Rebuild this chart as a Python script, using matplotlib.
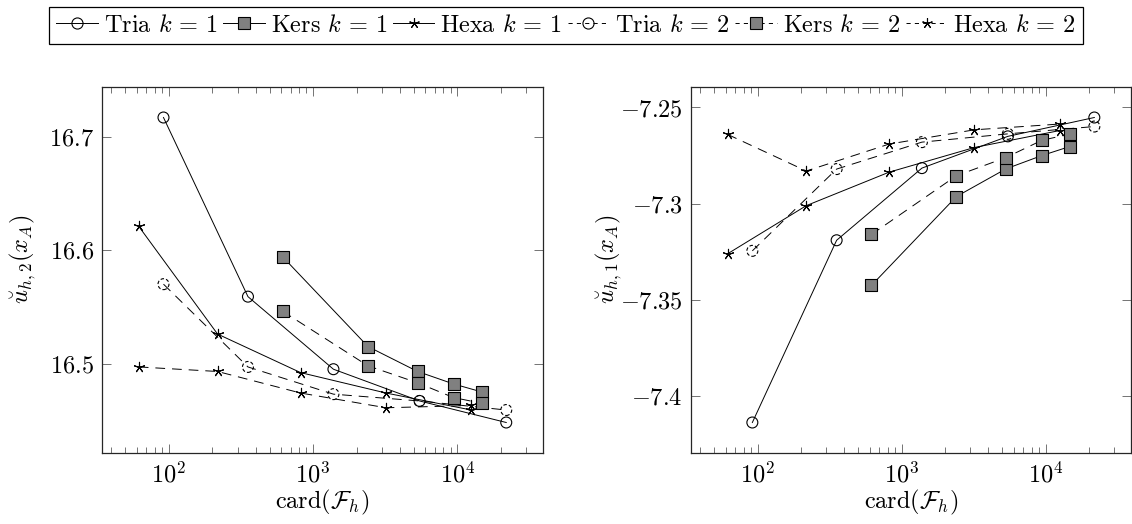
import numpy as np
import matplotlib
matplotlib.use("Agg")
import matplotlib.pyplot as plt
from matplotlib.lines import Line2D
from matplotlib.ticker import LogLocator, FixedLocator, FuncFormatter, NullFormatter
from matplotlib.mathtext import MathTextParser

plt.rcParams["font.family"] = "serif"
plt.rcParams["font.serif"] = ["cmr10"]
plt.rcParams["mathtext.fontset"] = "cm"
plt.rcParams["axes.formatter.use_mathtext"] = True
plt.rcParams["lines.scale_dashes"] = False

# ---- data ----
x_tria = [92, 354, 1384, 5470, 21800]
x_kers = [617, 2400, 5300, 9400, 14700]
x_hexa = [62, 218, 820, 3200, 12500]

# left panel: u_{h,2}(x_A)
tria1_u2 = [16.717, 16.559, 16.495, 16.467, 16.448]
kers1_u2 = [16.594, 16.515, 16.493, 16.482, 16.475]
hexa1_u2 = [16.621, 16.526, 16.492, 16.474, 16.459]
tria2_u2 = [16.570, 16.497, 16.473, 16.467, 16.459]
kers2_u2 = [16.546, 16.498, 16.483, 16.470, 16.465]
hexa2_u2 = [16.497, 16.493, 16.474, 16.461, 16.463]

# right panel: u_{h,1}(x_A)
tria1_u1 = [-7.4137, -7.319, -7.2815, -7.265, -7.2552]
kers1_u1 = [-7.3425, -7.2963, -7.2819, -7.275, -7.2703]
hexa1_u1 = [-7.326, -7.301, -7.2836, -7.2708, -7.262]
tria2_u1 = [-7.3245, -7.282, -7.268, -7.2637, -7.2599]
kers2_u1 = [-7.316, -7.2855, -7.276, -7.2671, -7.2638]
hexa2_u1 = [-7.264, -7.283, -7.269, -7.2616, -7.2586]

labels = [r"Tria $k\,=\,1$", r"Kers $k\,=\,1$", r"Hexa $k\,=\,1$",
          r"Tria $k\,=\,2$", r"Kers $k\,=\,2$", r"Hexa $k\,=\,2$"]
yticks_left = [16.5, 16.6, 16.7]
yticks_right = [-7.4, -7.35, -7.3, -7.25]

# ---- styles ----
FS = 17.5
DASH = (0, (7, 5))
LW = 0.7
star = (5, 2, 0)
mstyle = {
    "Tria": dict(marker="o", s=62, facecolors="none", edgecolors="black"),
    "Kers": dict(marker="s", s=66, facecolors="#808080", edgecolors="black"),
    "Hexa": dict(marker=star, s=55, facecolors="black", edgecolors="black"),
}

W, H = 1132, 524
fig = plt.figure(figsize=(W / 100, H / 100), dpi=100)
axL = fig.add_axes([102 / W, (H - 453) / H, 441 / W, 366 / H])
axR = fig.add_axes([691 / W, (H - 453) / H, 440 / W, 366 / H])


def mlabel(s, fallback):
    try:
        MathTextParser("path").parse(s)
        return s
    except Exception:
        return fallback


def draw(ax, series):
    for (name, xs, ys, dashed) in series:
        ls = DASH if dashed else "-"
        ax.plot(xs, ys, color="black", lw=LW, linestyle=ls, zorder=2)
        st = dict(mstyle[name])
        ax.scatter(xs, ys, linewidths=0.8,
                   linestyle=(0, (2.5, 1.5)) if (dashed and name == "Tria") else "-",
                   zorder=3, **st)


def style_axes(ax, ys_all, yticks):
    allx = np.log10(np.concatenate([x_tria, x_kers, x_hexa]))
    lo, hi = allx.min(), allx.max()
    r = hi - lo
    ax.set_xscale("log")
    ax.set_xlim(10 ** (lo - 0.1 * r), 10 ** (hi + 0.1 * r))
    ya = np.concatenate(ys_all)
    ylo, yhi = ya.min(), ya.max()
    yr = yhi - ylo
    ax.set_ylim(ylo - 0.1 * yr, yhi + 0.1 * yr)
    ax.xaxis.set_major_locator(LogLocator(base=10, numticks=10))
    ax.xaxis.set_minor_locator(LogLocator(base=10, subs=np.arange(2, 10), numticks=20))
    ax.xaxis.set_minor_formatter(NullFormatter())
    ax.yaxis.set_major_locator(FixedLocator(yticks))
    ax.yaxis.set_major_formatter(FuncFormatter(lambda v, p: r"$%g$" % v))
    ax.tick_params(which="both", direction="in", top=True, right=True,
                   color="0.45", width=0.7, labelsize=FS)
    ax.tick_params(which="major", length=6.5, pad=6)
    ax.tick_params(which="minor", length=4)
    for sp in ax.spines.values():
        sp.set_linewidth(0.9)
        sp.set_color("0.15")
    ax.set_xlabel(r"card$(\mathcal{F}_h)$", fontsize=FS, labelpad=1)


draw(axL, [("Tria", x_tria, tria1_u2, False), ("Kers", x_kers, kers1_u2, False),
           ("Hexa", x_hexa, hexa1_u2, False), ("Tria", x_tria, tria2_u2, True),
           ("Kers", x_kers, kers2_u2, True), ("Hexa", x_hexa, hexa2_u2, True)])
draw(axR, [("Tria", x_tria, tria1_u1, False), ("Kers", x_kers, kers1_u1, False),
           ("Hexa", x_hexa, hexa1_u1, False), ("Tria", x_tria, tria2_u1, True),
           ("Kers", x_kers, kers2_u1, True), ("Hexa", x_hexa, hexa2_u1, True)])

style_axes(axL, [tria1_u2, kers1_u2, hexa1_u2, tria2_u2, kers2_u2, hexa2_u2], yticks_left)
style_axes(axR, [tria1_u1, kers1_u1, hexa1_u1, tria2_u1, kers2_u1, hexa2_u1], yticks_right)

ylabL = mlabel(r"$\breve{u}_{h,2}(\underline{x}_A)$", r"$\breve{u}_{h,2}(x_A)$")
ylabR = mlabel(r"$\breve{u}_{h,1}(\underline{x}_A)$", r"$\breve{u}_{h,1}(x_A)$")
axL.set_ylabel(ylabL, fontsize=FS)
axR.set_ylabel(ylabR, fontsize=FS)
axL.yaxis.set_label_coords(-0.145, 0.53)
axR.yaxis.set_label_coords(-0.152, 0.53)

handles = []
for i, nm in enumerate(["Tria", "Kers", "Hexa", "Tria", "Kers", "Hexa"]):
    dashed = i >= 3
    st = mstyle[nm]
    handles.append(Line2D([], [], color="black", lw=LW,
                          linestyle=(0, (3, 3)) if dashed else "-",
                          marker=st["marker"], markersize=8 if nm != "Hexa" else 7.5,
                          markerfacecolor=("none" if nm == "Tria" else st["facecolors"]),
                          markeredgecolor="black", markeredgewidth=0.8))
leg = fig.legend(handles, labels, loc="upper center", bbox_to_anchor=(0.5, 0.995),
                 ncol=6, frameon=True, fancybox=False, edgecolor="black",
                 framealpha=1, fontsize=FS, handlelength=1.7, columnspacing=0.25,
                 handletextpad=0.25, borderpad=0.3, borderaxespad=0.2)
leg.get_frame().set_linewidth(0.9)

fig.savefig("out.png", dpi=100)
